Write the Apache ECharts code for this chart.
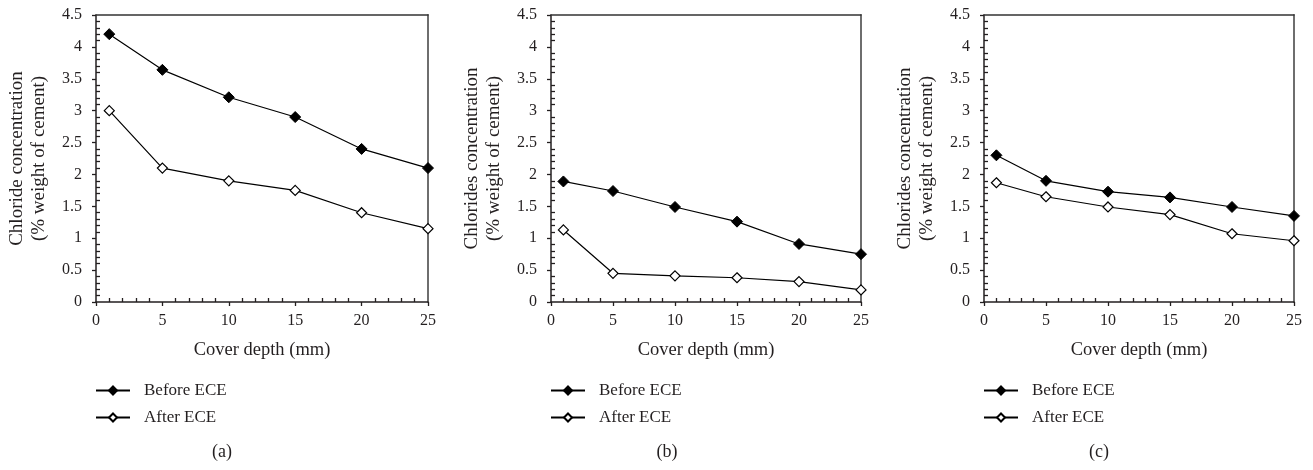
<!DOCTYPE html>
<html>
<head>
<meta charset="utf-8">
<script src="https://cdn.jsdelivr.net/npm/echarts@6/dist/echarts.min.js"></script>
<style>
  html, body { margin: 0; padding: 0; background: #fff; }
  #chart { width: 1313px; height: 470px; }
</style>
</head>
<body>
<div id="chart"></div>
<script>
// Cover depth (mm) at which chloride content was measured
const depths = [1, 5, 10, 15, 20, 25];
const xTicks = [0, 5, 10, 15, 20, 25];
const yTicks = [0, 0.5, 1, 1.5, 2, 2.5, 3, 3.5, 4, 4.5];

// Panel (a)
const beforeA = [4.2, 3.64, 3.21, 2.9, 2.4, 2.1];
const afterA  = [3.0, 2.1, 1.9, 1.75, 1.4, 1.15];
// Panel (b)
const beforeB = [1.89, 1.74, 1.49, 1.26, 0.91, 0.75];
const afterB  = [1.13, 0.45, 0.41, 0.38, 0.32, 0.19];
// Panel (c)
const beforeC = [2.3, 1.9, 1.73, 1.64, 1.49, 1.35];
const afterC  = [1.87, 1.65, 1.49, 1.37, 1.07, 0.96];

const seriesNames = ['Before ECE', 'After ECE'];
const yTitles = [
  'Chloride concentration\n(% weight of cement)',
  'Chlorides concentration\n(% weight of cement)',
  'Chlorides concentration\n(% weight of cement)'
];
const xTitle = 'Cover depth (mm)';
const captions = ['(a)', '(b)', '(c)'];

const FONT = '"Liberation Serif", "DejaVu Serif", serif';
const INK = '#231f20';

const panels = [
  { left: 96,  width: 332, before: beforeA, after: afterA, capX: 222 },
  { left: 551, width: 310, before: beforeB, after: afterB, capX: 667 },
  { left: 984, width: 310, before: beforeC, after: afterC, capX: 1099 }
];
const gridTop = 15, gridHeight = 287;

const grid = [], xAxis = [], yAxis = [], series = [], legend = [], graphic = [];
const toPairs = vals => depths.map((d, i) => [d, vals[i]]);

panels.forEach((p, i) => {
  grid.push({ left: p.left, top: gridTop, width: p.width, height: gridHeight, outerBoundsMode: 'none' });

  const xBase = { gridIndex: i, type: 'value', min: xTicks[0], max: xTicks[xTicks.length - 1], interval: 5, splitLine: { show: false } };
  const yBase = { gridIndex: i, type: 'value', min: yTicks[0], max: yTicks[yTicks.length - 1], interval: 0.5, splitLine: { show: false } };

  // bottom axis: line, outward major ticks, labels, title
  xAxis.push(Object.assign({}, xBase, {
    position: 'bottom',
    axisLine: { show: true, onZero: false, lineStyle: { color: INK, width: 1.5 } },
    axisTick: { show: true, inside: false, length: 4, lineStyle: { color: INK, width: 1.3 } },
    axisLabel: { show: true, margin: 11, color: INK, fontFamily: FONT, fontSize: 16 },
    name: xTitle, nameLocation: 'middle', nameGap: 39, nameMoveOverlap: false,
    nameTextStyle: { color: INK, fontFamily: FONT, fontSize: 18.5 }
  }));
  // bottom axis: inward minor ticks
  xAxis.push(Object.assign({}, xBase, {
    position: 'bottom',
    axisLine: { show: false, onZero: false },
    axisTick: { show: false, inside: true },
    axisLabel: { show: false },
    minorTick: { show: true, splitNumber: 5, length: 4, lineStyle: { color: INK, width: 1.3 } }
  }));
  // top frame line
  xAxis.push(Object.assign({}, xBase, {
    position: 'top',
    axisLine: { show: true, onZero: false, lineStyle: { color: '#333', width: 1.5 } },
    axisTick: { show: false }, axisLabel: { show: false }
  }));

  // left axis: line, outward major ticks, labels, title
  yAxis.push(Object.assign({}, yBase, {
    position: 'left',
    axisLine: { show: true, onZero: false, lineStyle: { color: INK, width: 1.5 } },
    axisTick: { show: true, inside: false, length: 4, lineStyle: { color: INK, width: 1.3 } },
    axisLabel: { show: true, margin: 14, color: INK, fontFamily: FONT, fontSize: 16 },
    name: yTitles[i], nameLocation: 'middle', nameGap: 46, nameMoveOverlap: false,
    nameTextStyle: { color: INK, fontFamily: FONT, fontSize: 19, lineHeight: 22, align: 'center' }
  }));
  // left axis: inward minor ticks
  yAxis.push(Object.assign({}, yBase, {
    position: 'left',
    axisLine: { show: false, onZero: false },
    axisTick: { show: false, inside: true },
    axisLabel: { show: false },
    minorTick: { show: true, splitNumber: 5, length: 4, lineStyle: { color: INK, width: 1.3 } }
  }));
  // right frame line
  yAxis.push(Object.assign({}, yBase, {
    position: 'right',
    axisLine: { show: true, onZero: false, lineStyle: { color: '#6e6e6e', width: 2 } },
    axisTick: { show: false }, axisLabel: { show: false }
  }));

  const xi = i * 3, yi = i * 3;
  series.push({
    name: seriesNames[0], type: 'line', xAxisIndex: xi, yAxisIndex: yi,
    data: toPairs(p.before), symbol: 'diamond', symbolSize: 11,
    lineStyle: { color: '#000', width: 1.2 },
    itemStyle: { color: '#000', borderColor: '#000', borderWidth: 1 },
    emphasis: { disabled: true }, animation: false
  });
  series.push({
    name: seriesNames[1], type: 'line', xAxisIndex: xi, yAxisIndex: yi,
    data: toPairs(p.after), symbol: 'diamond', symbolSize: 10, showAllSymbol: true,
    lineStyle: { color: '#000', width: 1.2 },
    itemStyle: { color: '#fff', borderColor: '#000', borderWidth: 1.2 },
    emphasis: { disabled: true }, animation: false
  });

  legend.push({
    data: seriesNames, orient: 'vertical', left: p.left - 1, top: 382, padding: 0,
    itemWidth: 34, itemHeight: 10, itemGap: 10, selectedMode: false,
    textStyle: { color: INK, fontFamily: FONT, fontSize: 17, padding: [0, 0, 0, 9] }
  });

  graphic.push({
    type: 'text', x: p.capX, y: 452,
    style: { text: captions[i], fill: INK, font: '18px ' + FONT, textAlign: 'center', textVerticalAlign: 'middle' }
  });
});

const chart = echarts.init(document.getElementById('chart'), null, { renderer: 'canvas' });
chart.setOption({
  animation: false,
  backgroundColor: '#fff',
  grid, xAxis, yAxis, series, legend, graphic
});
</script>
</body>
</html>
